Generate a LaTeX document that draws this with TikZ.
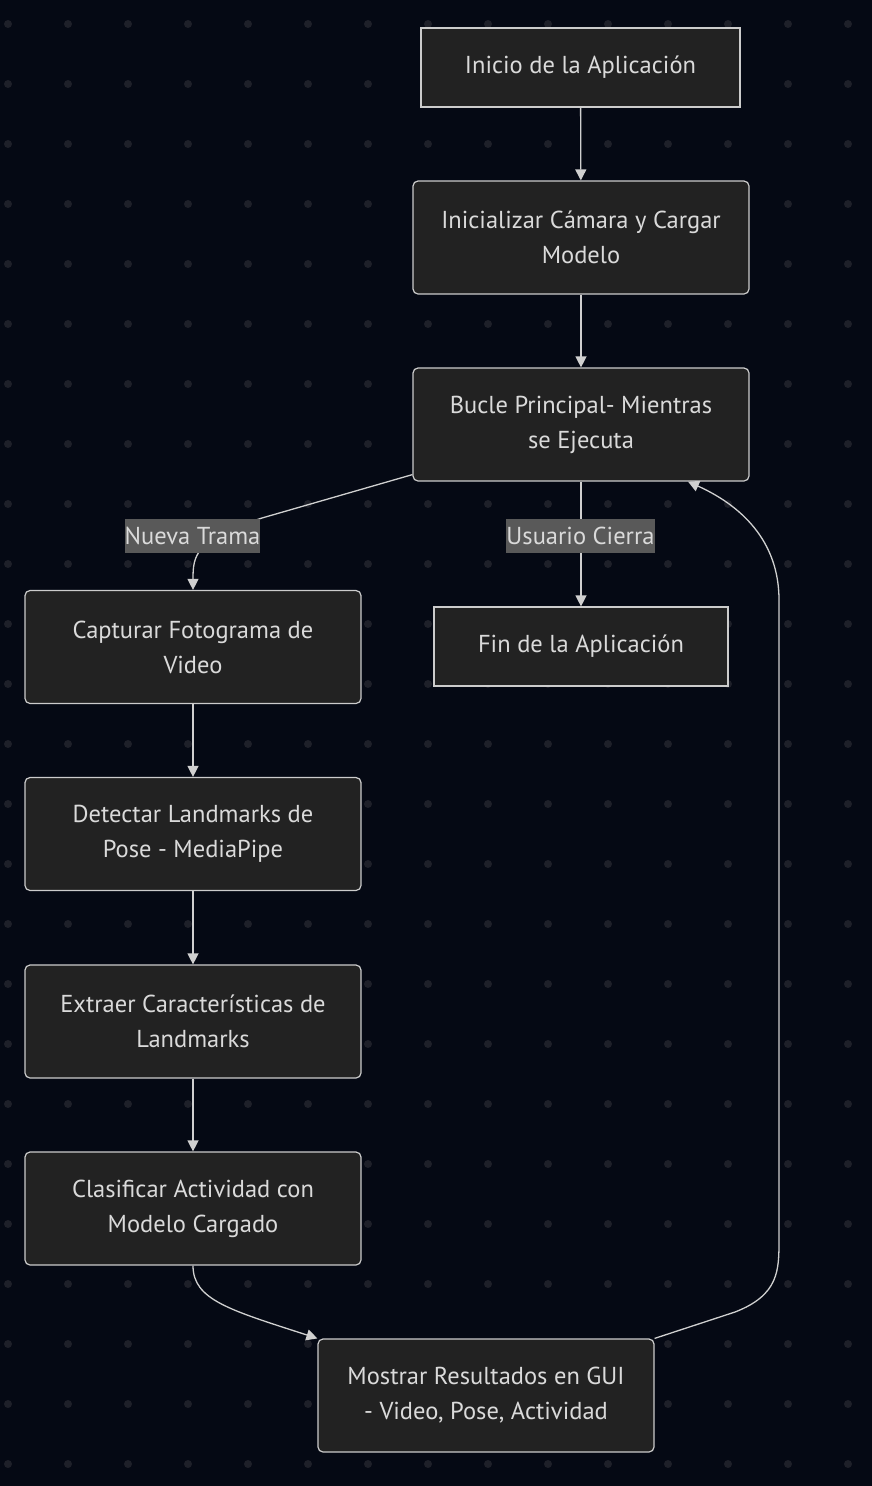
\documentclass[tikz,border=0pt]{standalone}
\usepackage{fontspec}
\setmainfont{PT Sans}
\usetikzlibrary{arrows.meta}
\definecolor{bgcol}{HTML}{050914}
\definecolor{dotcol}{HTML}{1E2029}
\definecolor{nodefill}{HTML}{222222}
\definecolor{bordercol}{HTML}{CCCCCC}
\definecolor{textcol}{HTML}{DADADA}
\definecolor{edgecol}{HTML}{D0D0D0}
\definecolor{labelfill}{HTML}{595959}
\tikzset{
  box/.style={draw=bordercol, fill=nodefill, line width=1.2pt, text=textcol, align=center,
    font=\fontsize{24.5}{35}\selectfont, inner sep=0pt, minimum width=336pt, minimum height=113pt},
  rbox/.style={box, rounded corners=5pt},
  sbox/.style={box, minimum height=79pt},
  edge/.style={draw=edgecol, line width=1.3pt, -{Triangle[length=11pt,width=11pt]}},
  elabel/.style={fill=labelfill, text=textcol, font=\fontsize{24.5}{28}\selectfont, inner xsep=0pt,
    inner ysep=0pt, minimum height=34pt}
}
\begin{document}
\begin{tikzpicture}[x=1pt,y=-1pt]
\fill[bgcol] (0,0) rectangle (872,1486);
\useasboundingbox (0,0) rectangle (872,1486);
\foreach \xx in {8,68,...,848} {
  \foreach \yy in {24,84,...,1464} {
    \fill[dotcol] (\xx,\yy) circle (4pt);
  }
}
\node[sbox, minimum width=319pt] (inicio) at (580.5,67.5) {Inicio de la Aplicación};
\node[rbox] (init) at (581,237.5) {Inicializar Cámara y Cargar\\Modelo};
\node[rbox] (bucle) at (581,424.5) {Bucle Principal- Mientras\\se Ejecuta};
\node[sbox, minimum width=294pt] (fin) at (581,646.5) {Fin de la Aplicación};
\node[rbox] (capt) at (193,647) {Capturar Fotograma de\\Video};
\node[rbox] (detec) at (193,834) {Detectar Landmarks de\\Pose - MediaPipe};
\node[rbox] (extr) at (193,1021.5) {Extraer Características de\\Landmarks};
\node[rbox] (clas) at (193,1208.5) {Clasificar Actividad con\\Modelo Cargado};
\node[rbox] (most) at (486,1395.5) {Mostrar Resultados en GUI\\- Video, Pose, Actividad};

\draw[edge] (inicio) -- (init);
\draw[edge] (init) -- (bucle);
\draw[edge] (bucle.south west) ++(0,-7) -- (262,518) .. controls (195,540) and (193,555) .. (capt.north);
\draw[edge] (bucle) -- (fin);
\draw[edge] (capt) -- (detec);
\draw[edge] (detec) -- (extr);
\draw[edge] (extr) -- (clas);
\draw[edge] (clas.south) .. controls (193,1300) and (230,1310) .. (most.north west);
\draw[edge] (most.north east) -- (735,1312) .. controls (779,1295) and (779,1270) .. (779,1240)
  -- (779,600) .. controls (779,540) and (740,505) .. ([xshift=107pt]bucle.south);

\node[elabel] (lnueva) at (192.5,536) {Nueva Trama};
\node[elabel] (lusuario) at (580.5,536) {Usuario Cierra};
\end{tikzpicture}
\end{document}
